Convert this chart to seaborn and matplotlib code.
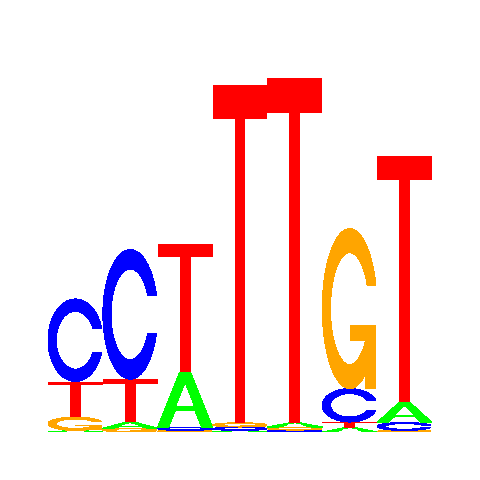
import numpy as np
import matplotlib
matplotlib.use("Agg")
import matplotlib.pyplot as plt
from matplotlib.patches import Polygon
import seaborn as sns

# sequence logo, 7 positions, heights in bits
positions = [1, 2, 3, 4, 5, 6, 7]
bases = ["A", "C", "G", "T"]
a_bits = [0.008, 0.030, 0.285, 0.008, 0.022, 0.023, 0.104]
c_bits = [0.430, 0.675, 0.018, 0.018, 0.010, 0.174, 0.042]
g_bits = [0.070, 0.020, 0.008, 0.022, 0.016, 0.833, 0.008]
t_bits = [0.185, 0.225, 0.667, 1.760, 1.795, 0.029, 1.285]
base_colors = {"A": "#00FF00", "C": "#0000FF", "G": "#FFA500", "T": "#FF0000"}

heights = {"A": a_bits, "C": c_bits, "G": g_bits, "T": t_bits}


def ring(with_bar=False):
    a1 = np.linspace(0.3 + np.pi / 2, np.pi, 100)
    a2 = np.linspace(np.pi, 1.5 * np.pi, 100)
    xl1 = 0.5 + 0.5 * np.sin(a1)
    yl1 = 0.5 + 0.5 * np.cos(a1)
    xl = np.concatenate([xl1, 0.5 + 0.5 * np.sin(a2)])
    yl = np.concatenate([yl1, 0.5 + 0.5 * np.cos(a2)])
    x = np.concatenate([xl, xl[::-1]])
    y = np.concatenate([yl, 1 - yl[::-1]])
    ymax = yl1.max()
    xi1 = 0.5 + 0.35 * np.sin(a1)
    yi1 = 0.5 + 0.35 * np.cos(a1)
    keep = yi1 <= ymax
    xi1, yi1 = xi1[keep], yi1[keep]
    yi1[0] = ymax
    xi = np.concatenate([xi1, 0.5 + 0.35 * np.sin(a2)])
    yi = np.concatenate([yi1, 0.5 + 0.35 * np.cos(a2)])
    x1 = np.concatenate([xi, xi[::-1]])
    y1 = np.concatenate([yi, 1 - yi[::-1]])
    shapes = [(np.concatenate([x, x1[::-1]]), np.concatenate([y, y1[::-1]]), False)]
    if with_bar:
        r1 = xl1.max()
        h1 = 0.4
        shapes.append((np.array([r1, 0.5, 0.5, r1 - 0.2, r1 - 0.2, r1, r1]),
                       np.array([h1, h1, h1 - 0.1, h1 - 0.1, 0, 0, h1]), False))
    return shapes


def letter_shapes(b):
    if b == "A":
        return [(np.array([0, 4, 6, 10, 8, 6.8, 3.2, 2, 0]) * 0.1,
                 np.array([0, 10, 10, 0, 0, 3, 3, 0, 0]) * 0.1, False),
                (np.array([3.6, 5, 6.4, 3.6]) * 0.1,
                 np.array([4, 7.5, 4, 4]) * 0.1, True)]
    if b == "T":
        return [(np.array([0, 10, 10, 6, 6, 4, 4, 0]) * 0.1,
                 np.array([10, 10, 9, 9, 0, 0, 9, 9]) * 0.1, False)]
    return ring(with_bar=(b == "G"))


sns.set_style("white")
fig = plt.figure(figsize=(4.8, 4.8), dpi=100)
ax = fig.add_axes([0.1, 0.1, 0.8, 0.8])

for i, pos in enumerate(positions):
    col = sorted(bases, key=lambda b: heights[b][i])
    y0 = 0.0
    for b in col:
        h = heights[b][i]
        for sx, sy, hole in letter_shapes(b):
            xy = np.column_stack([pos - 0.5 + sx, y0 + sy * h])
            ax.add_patch(Polygon(xy, closed=True, facecolor="white" if hole else base_colors[b],
                                 edgecolor="none", linewidth=0, antialiased=False))
        y0 += h

ax.set_xlim(0.5, 7.5)
ax.set_ylim(0, 2)
ax.axis("off")
fig.savefig("out.png", dpi=100, facecolor="white")
